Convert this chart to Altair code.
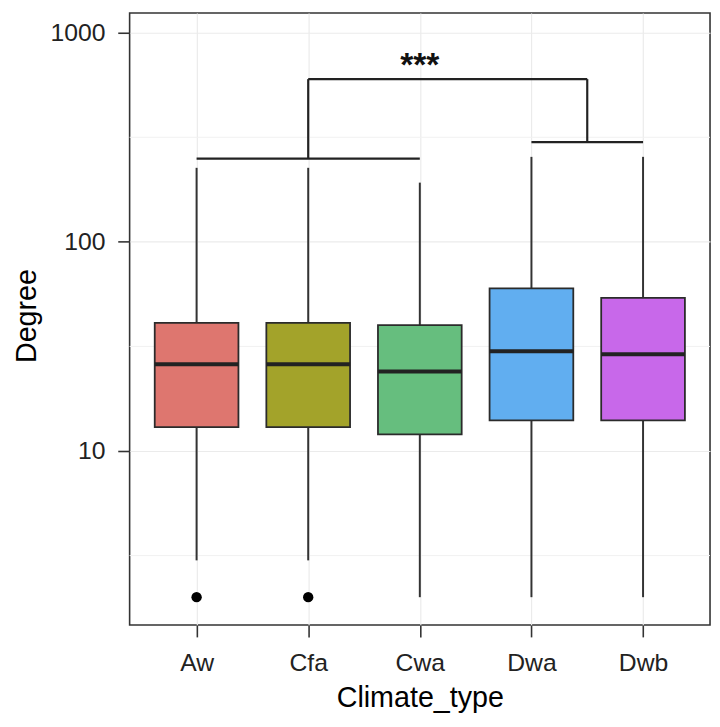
import json
import altair as alt
import pandas as pd

# ---- data ----
climate = ["Aw", "Cfa", "Cwa", "Dwa", "Dwb"]
whisker_low = [3, 3, 2, 2, 2]
q1 = [13, 13, 12, 14, 14]
median = [26, 26, 24, 30, 29]
q3 = [41, 41, 40, 60, 54]
whisker_high = [226, 226, 192, 255, 255]
box_colors = ["#DE766F", "#A3A32A", "#66BE7E", "#61AEF0", "#C868EA"]

outlier_climate = ["Aw", "Cfa"]
outlier_value = [2, 2]

# significance brackets
bracket_left = ["Aw", "Cwa"]
bracket_left_y = 250
bracket_right = ["Dwa", "Dwb"]
bracket_right_y = 300
bracket_top_y = 600
star_label = "***"
star_climate = "Cwa"
star_y = 620

y_ticks = [10, 100, 1000]
minor_grid = [10 ** 0.5, 10 ** 1.5, 10 ** 2.5]

# ---- tables ----
pos = {c: i + 1 for i, c in enumerate(climate)}
half = 0.375
boxes = pd.DataFrame({
    "climate": climate,
    "pos": [pos[c] for c in climate],
    "x0": [pos[c] - half for c in climate],
    "x1": [pos[c] + half for c in climate],
    "low": whisker_low, "q1": q1, "median": median, "q3": q3, "high": whisker_high,
})
outliers = pd.DataFrame({"pos": [pos[c] for c in outlier_climate], "value": outlier_value})

lmid = (pos[bracket_left[0]] + pos[bracket_left[1]]) / 2
rmid = (pos[bracket_right[0]] + pos[bracket_right[1]]) / 2
segments = pd.DataFrame({
    "x": [pos[bracket_left[0]], pos[bracket_right[0]], lmid, rmid, lmid],
    "x2": [pos[bracket_left[1]], pos[bracket_right[1]], lmid, rmid, rmid],
    "y": [bracket_left_y, bracket_right_y, bracket_left_y, bracket_right_y, bracket_top_y],
    "y2": [bracket_left_y, bracket_right_y, bracket_top_y, bracket_top_y, bracket_top_y],
})
stars = pd.DataFrame({"pos": [pos[star_climate]], "y": [star_y], "label": [star_label]})
grid = pd.DataFrame({"v": minor_grid})

# ---- scales / axes ----
FONT = "Liberation Sans"
xscale = alt.Scale(domain=[0.4, len(climate) + 0.6], nice=False, zero=False)
yscale = alt.Scale(type="log", domain=[1.472, 1243], nice=False)

xaxis = alt.Axis(
    values=list(range(1, len(climate) + 1)),
    labelExpr=json.dumps(climate) + "[datum.value - 1]",
    title="Climate_type", tickSize=12, labelPadding=33.5,
    labelBaseline="alphabetic", labelFlush=False,
    titleY=82, titleBaseline="alphabetic",
)
yaxis = alt.Axis(
    values=y_ticks, format="d", title="Degree",
    tickSize=12, labelPadding=13, labelBaseline="middle", labelFlush=False,
    titleX=-95, titleY=306, titleAngle=270, titleBaseline="alphabetic", titleAlign="center",
)


def X(field):
    return alt.X(field, type="quantitative", scale=xscale, axis=xaxis)


def Y(field):
    return alt.Y(field, type="quantitative", scale=yscale, axis=yaxis)


minor = alt.Chart(grid).mark_rule(color="#f1f1f1", strokeWidth=1).encode(y=Y("v"))

whisk_lo = alt.Chart(boxes).mark_rule(color="#333333", strokeWidth=2).encode(
    x=X("pos"), y=Y("low"), y2="q1")
whisk_hi = alt.Chart(boxes).mark_rule(color="#333333", strokeWidth=2).encode(
    x=X("pos"), y=Y("q3"), y2="high")

bars = alt.Chart(boxes).mark_bar(stroke="#2b2b2b", strokeWidth=1.8).encode(
    x=X("x0"), x2="x1", y=Y("q1"), y2="q3",
    color=alt.Color("climate:N", scale=alt.Scale(domain=climate, range=box_colors), legend=None),
)
med = alt.Chart(boxes).mark_rule(color="#222222", strokeWidth=4).encode(
    x=X("x0"), x2="x1", y=Y("median"))

pts = alt.Chart(outliers).mark_circle(color="black", opacity=1, size=110).encode(
    x=X("pos"), y=Y("value"))

brk = alt.Chart(segments).mark_rule(color="#222222", strokeWidth=2.2).encode(
    x=X("x"), x2="x2", y=Y("y"), y2="y2")

txt = alt.Chart(stars).mark_text(font=FONT, fontSize=34, baseline="alphabetic",
                                 align="center", color="#111111", fontWeight="bold").encode(
    x=X("pos"), y=Y("y"), text="label:N")

chart = alt.layer(minor, whisk_lo, whisk_hi, bars, med, pts, brk, txt).properties(
    width=587, height=619,
    autosize=alt.AutoSizeParams(type="none"),
    padding={"left": 123, "top": 1, "right": 2, "bottom": 91},
).configure_view(
    stroke="#333333", strokeWidth=1.6
).configure_axis(
    domain=False, tickColor="#333333", tickWidth=1.6,
    grid=True, gridColor="#ebebeb", gridWidth=1.2,
    labelFont=FONT, labelFontSize=25, labelColor="#222222",
    titleFont=FONT, titleFontSize=29, titleFontWeight="normal", titleColor="#000000",
)

chart.save("out.html", embed_options={"renderer": "svg", "actions": False})
